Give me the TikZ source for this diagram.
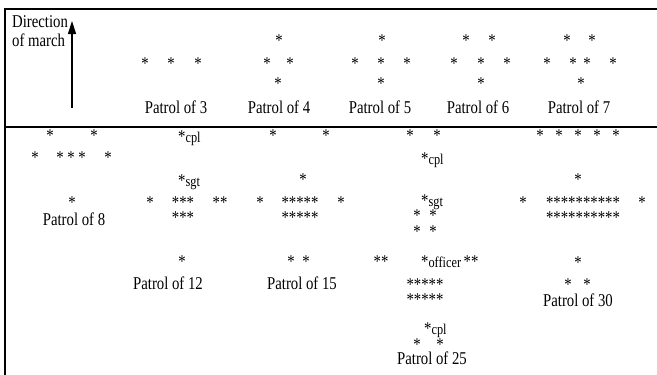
\documentclass[tikz,border=0pt]{standalone}
\usepackage{fontspec}
\setmainfont{Liberation Serif}[FakeStretch=0.82]
\usetikzlibrary{arrows.meta}
\newcommand{\rk}[1]{{\fontsize{15}{17}\selectfont #1}}
\begin{document}
\begin{tikzpicture}[x=1pt,y=-1pt,
    lbl/.style={anchor=base,inner sep=0pt,font=\fontsize{18}{21}\selectfont},
    man/.style={lbl,text height=12.5pt,text depth=0pt},
    rank/.style={lbl,anchor=base west},
    frame/.style={line width=1.3pt}]
  \useasboundingbox (0,0) rectangle (657,375);
  \draw[frame] (657,9)--(5,9)--(5,375);
  \draw[frame] (5,127)--(657,127);
  \node[rank] (dir) at (12,27) {Direction};
  \node[rank] (dirb) at (12,46) {of march};
  \coordinate (march tail) at (72,108);
  \coordinate (march tip) at (72,21);
  \draw[line width=1.5pt,-{Triangle[length=13pt,width=8pt]}] (march tail)--(march tip);
  % top row
  \foreach \x in {145,171,198} \node[man] (p3b\x) at (\x,69.5) {*};
  \node[lbl] (p3) at (176,113) {Patrol of 3};
  \node[man] (p4a) at (279,46.5) {*};
  \foreach \x in {267,290} \node[man] (p4b\x) at (\x,69.5) {*};
  \node[man] (p4c) at (278,89.5) {*};
  \node[lbl] (p4) at (279,113) {Patrol of 4};
  \node[man] (p5a) at (382,46.5) {*};
  \foreach \x in {355,381,407} \node[man] (p5b\x) at (\x,69.5) {*};
  \node[man] (p5c) at (381,89.5) {*};
  \node[lbl] (p5) at (380,113) {Patrol of 5};
  \foreach \x in {466,492} \node[man] (p6a\x) at (\x,46.5) {*};
  \foreach \x in {454,481,507} \node[man] (p6b\x) at (\x,69.5) {*};
  \node[man] (p6c) at (481,89.5) {*};
  \node[lbl] (p6) at (478,113) {Patrol of 6};
  \foreach \x in {567,592} \node[man] (p7a\x) at (\x,46.5) {*};
  \foreach \x in {547,573,587,613} \node[man] (p7b\x) at (\x,69.5) {*};
  \node[man] (p7c) at (581,89.5) {*};
  \node[lbl] (p7) at (579,113) {Patrol of 7};
  % bottom row
  \foreach \x in {50,94} \node[man] (p8a\x) at (\x,141.5) {*};
  \foreach \x in {35,60,71,82,108} \node[man] (p8b\x) at (\x,163.5) {*};
  \node[man] (p8c) at (72,208.5) {*};
  \node[lbl] (p8) at (74,225) {Patrol of 8};
  \node[rank] (p12cpl) at (178,142) {*\rk{cpl}};
  \node[rank] (p12sgt) at (178,186) {*\rk{sgt}};
  \node[man] (p12l) at (150,208.5) {*};
  \node[man] (p12m) at (183,208.5) {***};
  \node[man] (p12r) at (220,208.5) {**};
  \node[man] (p12n) at (183,223.5) {***};
  \node[man] (p12e) at (182,267.5) {*};
  \node[lbl] (p12) at (168,289) {Patrol of 12};
  \foreach \x in {273,326} \node[man] (p15a\x) at (\x,141.5) {*};
  \node[man] (p15s) at (303,185.5) {*};
  \node[man] (p15l) at (260,208.5) {*};
  \node[man] (p15m) at (300,208.5) {*****};
  \node[man] (p15r) at (341,208.5) {*};
  \node[man] (p15n) at (300,223.5) {*****};
  \foreach \x in {291,306} \node[man] (p15e\x) at (\x,267.5) {*};
  \node[lbl] (p15) at (302,289) {Patrol of 15};
  \foreach \x in {410,437} \node[man] (p25a\x) at (\x,141.5) {*};
  \node[rank] (p25cpl) at (421,164) {*\rk{cpl}};
  \node[rank] (p25sgt) at (421,206) {*\rk{sgt}};
  \foreach \x in {417,433} \node[man] (p25b\x) at (\x,221.5) {*};
  \foreach \x in {417,433} \node[man] (p25c\x) at (\x,237.5) {*};
  \node[man] (p25l) at (381,267.5) {**};
  \node[rank] (p25off) at (421,267) {*\rk{officer}};
  \node[man] (p25r) at (471,267.5) {**};
  \node[man] (p25m) at (425,290.5) {*****};
  \node[man] (p25n) at (425,305.5) {*****};
  \node[rank] (p25cpb) at (424,334) {*\rk{cpl}};
  \foreach \x in {417,440} \node[man] (p25e\x) at (\x,350.5) {*};
  \node[lbl] (p25) at (432,364) {Patrol of 25};
  \foreach \x in {540,559,578,597,616} \node[man] (p30a\x) at (\x,141.5) {*};
  \node[man] (p30s) at (578,185.5) {*};
  \node[man] (p30l) at (523,208.5) {*};
  \node[man] (p30m) at (583,208.5) {**********};
  \node[man] (p30r) at (642,208.5) {*};
  \node[man] (p30n) at (583,223.5) {**********};
  \node[man] (p30e) at (578,268.5) {*};
  \foreach \x in {568,587} \node[man] (p30f\x) at (\x,290.5) {*};
  \node[lbl] (p30) at (578,306) {Patrol of 30};
\end{tikzpicture}
\end{document}
